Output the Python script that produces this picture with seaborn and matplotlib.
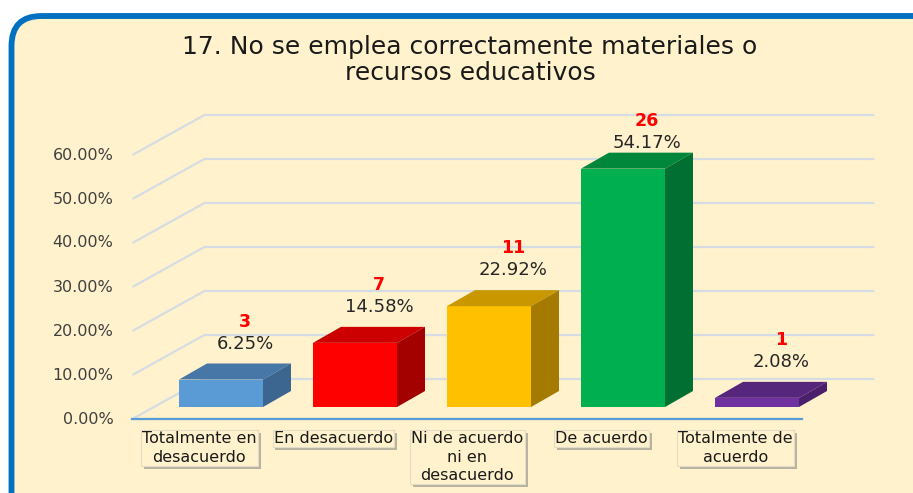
import textwrap
import numpy as np
import pandas as pd
import matplotlib
matplotlib.use("Agg")
import matplotlib.pyplot as plt
import matplotlib.patheffects as pe
from matplotlib.patches import FancyBboxPatch, Polygon
import seaborn as sns

# Data
categories = ["Totalmente en desacuerdo", "En desacuerdo", "Ni de acuerdo ni en desacuerdo",
              "De acuerdo", "Totalmente de acuerdo"]
counts = [3, 7, 11, 26, 1]
percents = [6.25, 14.58, 22.92, 54.17, 2.08]
y_ticks = [0, 10, 20, 30, 40, 50, 60]
title = "17. No se emplea correctamente materiales o\nrecursos educativos"

front_colors = ["#5B9BD5", "#FF0000", "#FFC000", "#00B050", "#7030A0"]
top_colors = ["#4677A6", "#CC0000", "#C99700", "#00873C", "#56257C"]
side_colors = ["#3C6690", "#A30000", "#A47B00", "#006F31", "#4A1F6B"]

cream = "#FFF2CC"
W, H = 913, 493

# layout in pixels
px_cat = 134.0      # pixels per category
px_pct = 4.4        # pixels per percentage point
x_cat0 = 221.0      # pixel x of first bar centre
y_zero = 407.0      # pixel y (from top) of bar base

df = pd.DataFrame({"cat": categories, "pct": percents, "n": counts})

fig = plt.figure(figsize=(W / 100, H / 100), dpi=100)
fig.patch.set_facecolor("white")

# background panel with rounded blue border
bg = fig.add_axes([0, 0, 1, 1])
bg.set_xlim(0, W)
bg.set_ylim(H, 0)
bg.axis("off")
bg.add_patch(FancyBboxPatch((11.5, 16), 940, 520,
                            boxstyle="round,pad=0,rounding_size=30",
                            facecolor=cream, edgecolor="#0070C0", linewidth=4.2))
bg.text(470, 60, title, ha="center", va="center", fontsize=18,
        color="#1A1A1A", linespacing=1.15, family="DejaVu Sans")

ax = fig.add_axes([0, 0, 1, 1])
ax.patch.set_alpha(0)
sns.barplot(data=df, x="cat", y="pct", hue="cat", palette=front_colors,
            saturation=1, width=84 / px_cat, legend=False, ax=ax,
            edgecolor="none", zorder=3)
ax.set_xlim(-x_cat0 / px_cat, (W - x_cat0) / px_cat)
ax.set_ylim(-(H - y_zero) / px_pct, y_zero / px_pct)
ax.axis("off")

# oblique offsets (data units)
dx = lambda p: p / px_cat
dy = lambda p: p / px_pct
front = (dx(-21.6), dy(-12))
back = (dx(50.4), dy(28))
depth = (dx(28), dy(16))
left, right = -0.5, len(categories) - 0.5

# 3D gridlines: front-left slant plus back wall
for v in y_ticks:
    xs = [left + front[0], left + back[0], right + back[0]]
    ys = [v + front[1], v + back[1], v + back[1]]
    ax.plot(xs, ys, color="#D6DCE4", lw=1.6, zorder=1, solid_capstyle="butt")
    ax.text(left + front[0] - dx(19), v + front[1], f"{v:.2f}%", ha="right",
            va="center", fontsize=11.5, color="#404040", family="DejaVu Sans")

# front floor edge
ax.plot([left + front[0], right + front[0]], [front[1], front[1]],
        color="#5B9BD5", lw=1.6, zorder=2)

# extrude bars into boxes
for i, bar in enumerate(ax.patches[:len(categories)]):
    x0, w, h = bar.get_x(), bar.get_width(), bar.get_height()
    top = [(x0, h), (x0 + w, h), (x0 + w + depth[0], h + depth[1]), (x0 + depth[0], h + depth[1])]
    side = [(x0 + w, 0), (x0 + w + depth[0], depth[1]), (x0 + w + depth[0], h + depth[1]), (x0 + w, h)]
    ax.add_patch(Polygon(top, closed=True, facecolor=top_colors[i], edgecolor="none", zorder=3))
    ax.add_patch(Polygon(side, closed=True, facecolor=side_colors[i], edgecolor="none", zorder=3))

    xc = x0 + w / 2 + dx(24)
    ly = min(h + depth[1] + 4.5, 60)
    ax.text(xc, ly, f"{percents[i]:.2f}%", ha="center", va="center",
            fontsize=13, color="#262626", family="DejaVu Sans", zorder=5)
    ax.text(xc, ly + dy(22), str(counts[i]), ha="center", va="center",
            fontsize=12.5, color="#FF0000", fontweight="bold", family="DejaVu Sans", zorder=5)

# category labels in boxes on the front plane
for i, cat in enumerate(categories):
    t = ax.text(i + front[0], front[1] - dy(12), textwrap.fill(cat, 13),
                ha="center", va="top", fontsize=11.5, color="#1A1A1A",
                linespacing=1.3, family="DejaVu Sans", zorder=5,
                bbox=dict(boxstyle="square,pad=0.08", facecolor=cream,
                          edgecolor="#E3DCC6", linewidth=0.8))
    t.get_bbox_patch().set_path_effects([
        pe.SimplePatchShadow(offset=(2, -2), shadow_rgbFace="#7F7F7F", alpha=0.55),
        pe.Normal()])

fig.savefig("out.png", dpi=100, facecolor=fig.get_facecolor())
